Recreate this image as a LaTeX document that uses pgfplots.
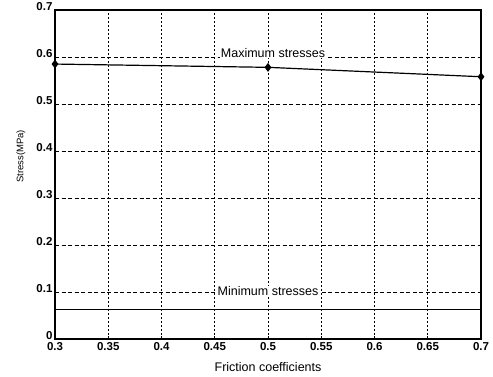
\documentclass[border=0pt]{standalone}
\usepackage{fontspec}
\setmainfont{Liberation Sans}
\usepackage{pgfplots}
\pgfplotsset{compat=1.18}
\begin{document}
\begin{tikzpicture}
\begin{axis}[
  scale only axis,
  width=426pt, height=329pt,
  xmin=0.3, xmax=0.7, ymin=0, ymax=0.7,
  xtick={0.3,0.35,0.4,0.45,0.5,0.55,0.6,0.65,0.7},
  ytick={0,0.1,0.2,0.3,0.4,0.5,0.6,0.7},
  xticklabels={0.3,0.35,0.4,0.45,0.5,0.55,0.6,0.65,0.7},
  yticklabels={0,0.1,0.2,0.3,0.4,0.5,0.6,0.7},
  /pgf/number format/assume math mode=true,
  tick label style={font=\fontsize{11.5}{12}\selectfont\bfseries},
  xticklabel style={yshift=0pt},
  yticklabel style={xshift=1pt, yshift=3pt},
  xlabel={Friction coefficients},
  ylabel={Stress(MPa)},
  xlabel style={font=\fontsize{12.5}{14}\selectfont, at={(axis description cs:0.5,0)}, anchor=center, yshift=-28pt},
  ylabel style={font=\fontsize{9.5}{12}\selectfont, at={(axis description cs:0,0.5)}, anchor=center, yshift=34pt, xshift=18pt},
  xmajorgrids, ymajorgrids,
  x grid style={black, line width=0.8pt, dash pattern=on 2pt off 2pt},
  y grid style={black, line width=0.8pt, dash pattern=on 4pt off 2.5pt},
  axis line style={line width=1.6pt},
  tick style={black, line width=0.8pt},
  tick align=inside,
  major tick length=3pt,
  xtick pos=bottom, ytick pos=left,
]
\addplot[black, line width=1.2pt, mark=diamond*, mark size=3.5pt] coordinates {
  (0.3,0.585) (0.5,0.578) (0.7,0.558)
};
\addplot[black, line width=1.2pt] coordinates {
  (0.3,0.063) (0.5,0.063) (0.7,0.063)
};
\node[font=\fontsize{12.5}{14}\selectfont, fill=white, inner sep=1pt] at (axis cs:0.5047,0.609) {Maximum stresses};
\node[font=\fontsize{12.5}{14}\selectfont, fill=white, inner sep=1pt] at (axis cs:0.5,0.101) {Minimum stresses};
\end{axis}
\pgfresetboundingbox
\path[use as bounding box] ([xshift=-55pt,yshift=-37pt]current axis.south west) rectangle ([xshift=12pt,yshift=10pt]current axis.north east);
\end{tikzpicture}
\end{document}
